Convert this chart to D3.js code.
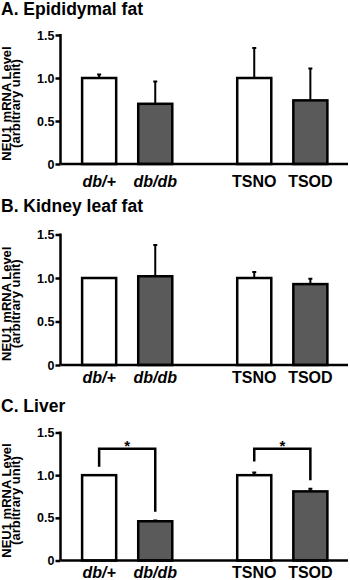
<!DOCTYPE html>
<html>
<head>
<meta charset="utf-8">
<script src="https://cdn.jsdelivr.net/npm/d3@7"></script>
<style>
  body { margin: 0; background: #fff; }
  svg { display: block; font-family: "Liberation Sans", Arial, sans-serif; }
</style>
</head>
<body>
<script>
// groups / categories
var categories = ["db/+", "db/db", "TSNO", "TSOD"];
var groupOf = ["db", "db", "TS", "TS"];
var groups = ["db", "TS"];
var italicLabel = [true, true, false, false];
var isDiabetic = [false, true, false, true];

var panelTitles = ["A. Epididymal fat", "B. Kidney leaf fat", "C. Liver"];

// NEU1 mRNA level, mean and upper SE
var epiMean = [1.00, 0.70, 1.00, 0.74];
var epiErr = [0.04, 0.26, 0.35, 0.37];
var kidMean = [1.00, 1.02, 1.00, 0.93];
var kidErr = [0.00, 0.36, 0.07, 0.06];
var livMean = [1.00, 0.46, 1.00, 0.81];
var livErr = [0.00, 0.01, 0.03, 0.03];

var yTicks = [0, 0.5, 1.0, 1.5];

// significance brackets (liver)
var sigFrom = ["db/+", "TSNO"];
var sigTo = ["db/db", "TSOD"];
var sigTop = [1.31, 1.31];
var sigLeftEnd = [1.10, 1.16];
var sigRightEnd = [0.57, 0.94];
var sigMark = ["*", "*"];

var allMeans = [epiMean, kidMean, livMean];
var allErrs = [epiErr, kidErr, livErr];

var width = 350, height = 580;
var axisX = 60.5, axisEnd = 348;

// vertical layout of each panel
var layout = [
  {titleY: 15, top: 35, bottom: 164, labelY: 187},
  {titleY: 211.5, top: 234.5, bottom: 365, labelY: 383},
  {titleY: 411.5, top: 432.5, bottom: 560.5, labelY: 578}
];

var svg = d3.select("body").append("svg")
    .attr("width", width)
    .attr("height", height);

var xGroup = d3.scaleBand()
    .domain(groups)
    .range([axisX, axisEnd + 1])
    .paddingInner(0.3)
    .paddingOuter(0.08);

var xInner = d3.scaleBand()
    .domain([0, 1])
    .range([0, xGroup.bandwidth()])
    .paddingInner(0.393)
    .paddingOuter(0.164);

function xLeft(i) {
  return xGroup(groupOf[i]) + xInner(i % 2);
}
function xMid(i) {
  return xLeft(i) + xInner.bandwidth() / 2;
}

layout.forEach(function(p, k) {
  var means = allMeans[k], errs = allErrs[k];

  var yScale = d3.scaleLinear()
      .domain([0, 1.5])
      .range([p.bottom, p.top]);

  var g = svg.append("g");

  g.append("text")
      .attr("x", 1)
      .attr("y", p.titleY)
      .style("font-size", "17.5px")
      .style("font-weight", "bold")
      .text(panelTitles[k]);

  // y axis title
  var midY = (p.top + p.bottom) / 2 + 4;
  g.append("text")
      .attr("transform", "translate(10.5," + midY + ") rotate(-90)")
      .style("text-anchor", "middle")
      .style("font-size", "13px")
      .style("font-weight", "bold")
      .text("NEU1 mRNA Level");
  g.append("text")
      .attr("transform", "translate(20," + midY + ") rotate(-90)")
      .style("text-anchor", "middle")
      .style("font-size", "13px")
      .style("font-weight", "bold")
      .text("(arbitrary unit)");

  // error bars (upper only)
  var bars = d3.range(categories.length);

  g.selectAll(".err")
    .data(bars.filter(function(i) { return errs[i] > 0; }))
    .enter().append("path")
      .attr("class", "err")
      .attr("fill", "none")
      .attr("stroke", "#000")
      .attr("stroke-width", 2)
      .attr("d", function(i) {
        var x = xMid(i), y0 = yScale(means[i]), y1 = yScale(means[i] + errs[i]);
        return "M" + x + "," + y0 + "V" + y1 + "M" + (x - 2) + "," + y1 + "H" + (x + 2);
      });

  g.selectAll(".bar")
    .data(bars)
    .enter().append("rect")
      .attr("class", "bar")
      .attr("x", function(i) { return xLeft(i); })
      .attr("y", function(i) { return yScale(means[i]); })
      .attr("width", xInner.bandwidth())
      .attr("height", function(i) { return yScale(0) - yScale(means[i]); })
      .attr("fill", function(i) { return isDiabetic[i] ? "#5a5a5a" : "#fff"; })
      .attr("stroke", "#000")
      .attr("stroke-width", 2.5);

  // y axis
  var yAxis = d3.axisLeft(yScale)
      .tickValues(yTicks)
      .tickSize(5)
      .tickPadding(1)
      .tickFormat(function(d) { return d === 0 ? "0" : d3.format(".1f")(d); });

  var ya = g.append("g")
      .attr("transform", "translate(" + axisX + ",0)")
      .call(yAxis);
  ya.select(".domain").remove();
  ya.selectAll("line").attr("stroke-width", 2.5);
  ya.selectAll("text")
      .style("font-family", "Liberation Sans, Arial, sans-serif")
      .style("font-size", "12.5px")
      .style("font-weight", "bold")
      .attr("fill", "#000");
  ya.append("line")
      .attr("x1", 0).attr("x2", 0)
      .attr("y1", yScale(1.5) - 1).attr("y2", yScale(0))
      .attr("stroke", "#000")
      .attr("stroke-width", 2.5);

  // x baseline
  g.append("line")
      .attr("x1", axisX).attr("x2", axisEnd)
      .attr("y1", yScale(0)).attr("y2", yScale(0))
      .attr("stroke", "#000")
      .attr("stroke-width", 2.5);

  g.selectAll(".cat")
    .data(bars)
    .enter().append("text")
      .attr("class", "cat")
      .attr("x", function(i) { return xMid(i); })
      .attr("y", p.labelY)
      .style("text-anchor", "middle")
      .style("font-size", "16px")
      .style("font-weight", "bold")
      .style("font-style", function(i) { return italicLabel[i] ? "italic" : "normal"; })
      .text(function(i) { return categories[i]; });

  if (k === 2) {
    sigFrom.forEach(function(from, j) {
      var a = xMid(categories.indexOf(from)), b = xMid(categories.indexOf(sigTo[j]));
      g.append("path")
          .attr("fill", "none")
          .attr("stroke", "#000")
          .attr("stroke-width", 2.5)
          .attr("d", "M" + a + "," + yScale(sigLeftEnd[j]) +
                     "V" + yScale(sigTop[j]) +
                     "H" + b +
                     "V" + yScale(sigRightEnd[j]));
      g.append("text")
          .attr("x", (a + b) / 2)
          .attr("y", yScale(sigTop[j]) + 2)
          .style("text-anchor", "middle")
          .style("font-size", "15px")
          .style("font-weight", "bold")
          .text(sigMark[j]);
    });
  }
});
</script>
</body>
</html>
